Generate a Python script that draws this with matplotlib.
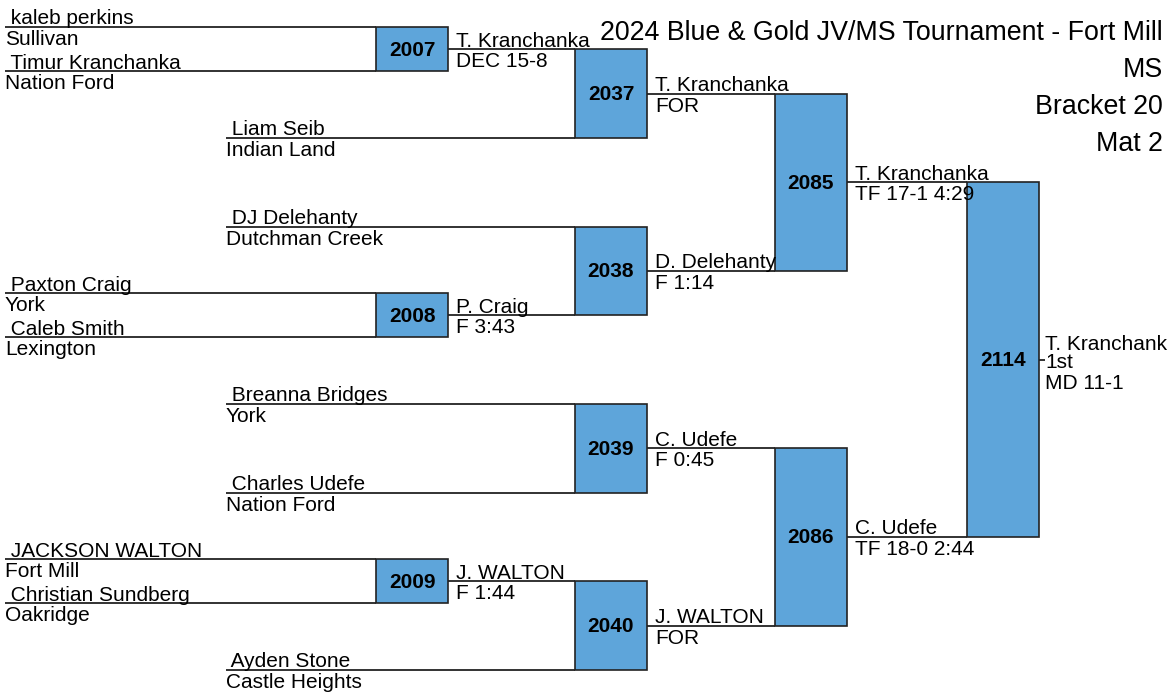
import matplotlib
matplotlib.use('Agg')
import matplotlib.pyplot as plt
from matplotlib.patches import Rectangle

plt.rcParams['font.family'] = ['Liberation Sans', 'DejaVu Sans']

# Titulos
title_lines = ['2024 Blue & Gold JV/MS Tournament - Fort Mill', 'MS', 'Bracket 20', 'Mat 2']

# Luchadores de entrada
entry_names = [' kaleb perkins', ' Timur Kranchanka', ' Liam Seib', ' DJ Delehanty',
               ' Paxton Craig', ' Caleb Smith', ' Breanna Bridges', ' Charles Udefe',
               ' JACKSON WALTON', ' Christian Sundberg', ' Ayden Stone']
entry_teams = ['Sullivan', 'Nation Ford', 'Indian Land', 'Dutchman Creek',
               'York', 'Lexington', 'York', 'Nation Ford',
               'Fort Mill', 'Oakridge', 'Castle Heights']
entry_slot = [0, 2, 5, 9, 12, 14, 17, 21, 24, 26, 29]   # fila en la grilla
entry_round = [0, 0, 1, 1, 0, 0, 1, 1, 0, 0, 1]          # columna donde entra

# Combates
match_ids = [2007, 2008, 2009, 2037, 2038, 2039, 2040, 2085, 2086, 2114]
match_round = [0, 0, 0, 1, 1, 1, 1, 2, 2, 3]
match_top = [0, 12, 24, 1, 9, 17, 25, 3, 19, 7]
match_bot = [2, 14, 26, 5, 13, 21, 29, 11, 27, 23]
winners = ['T. Kranchanka', 'P. Craig', 'J. WALTON', 'T. Kranchanka', 'D. Delehanty',
           'C. Udefe', 'J. WALTON', 'T. Kranchanka', 'C. Udefe', 'T. Kranchanka']
results = ['DEC 15-8', 'F 3:43', 'F 1:44', 'FOR', 'F 1:14',
           'F 0:45', 'FOR', 'TF 17-1 4:29', 'TF 18-0 2:44', 'MD 11-1']
place = '1st'

# Geometria (pixeles)
col_x = [376, 575, 775, 967]
entry_x = [5, 226]
box_w = 72
y0, dy = 27, 22.17
box_color = '#5EA5DA'
fs = 15


def ypix(k):
    return y0 + dy * k


fig = plt.figure(figsize=(11.68, 7), dpi=100)
ax = fig.add_axes([0, 0, 1, 1])
ax.set_xlim(0, 1168)
ax.set_ylim(700, 0)
ax.axis('off')

# lineas de entrada
for name, team, k, r in zip(entry_names, entry_teams, entry_slot, entry_round):
    y = ypix(k)
    x1 = entry_x[r]
    ax.plot([x1, col_x[r]], [y, y], color='#222222', lw=1.3, solid_capstyle='butt')
    ax.text(x1, y - 2.5, name, fontsize=fs, ha='left', va='baseline')
    ax.text(x1, y + 18, team, fontsize=fs, ha='left', va='baseline')

# cajas y ganadores
for mid, r, kt, kb, w, res in zip(match_ids, match_round, match_top, match_bot, winners, results):
    yt, yb = ypix(kt), ypix(kb)
    x = col_x[r]
    ax.add_patch(Rectangle((x, yt), box_w, yb - yt, facecolor=box_color,
                           edgecolor='#222222', lw=1.2))
    ax.text(x + box_w / 2, (yt + yb) / 2 + 1, str(mid), fontsize=15, fontweight='bold',
            ha='center', va='center')
    ym = ypix((kt + kb) / 2)
    xr = x + box_w
    if r < 3:
        ax.plot([xr, col_x[r + 1]], [ym, ym], color='#222222', lw=1.3, solid_capstyle='butt')
        ax.text(xr + 8, ym - 2.5, w, fontsize=fs, ha='left', va='baseline')
        ax.text(xr + 8, ym + 18, res, fontsize=fs, ha='left', va='baseline')
    else:
        ax.plot([xr, xr + 6], [ym, ym], color='#222222', lw=1.3, solid_capstyle='butt')
        ax.text(xr + 6, ym - 10, w, fontsize=fs, ha='left', va='baseline')
        ax.text(xr + 6, ym + 8, place, fontsize=fs, ha='left', va='baseline')
        ax.text(xr + 6, ym + 29, res, fontsize=fs, ha='left', va='baseline')

# titulo arriba a la derecha
for i, t in enumerate(title_lines):
    ax.text(1163, 40 + 37 * i, t, fontsize=19.25, ha='right', va='baseline')

fig.savefig('out.png', dpi=100)
